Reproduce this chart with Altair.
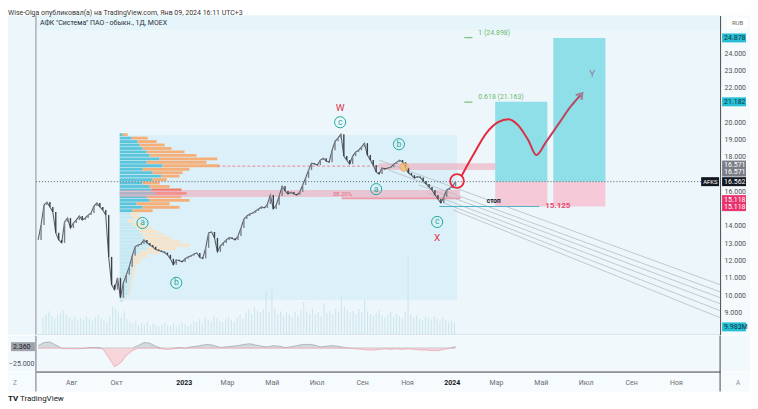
import altair as alt
import pandas as pd

FONT = "Roboto"
W, H = 686, 320
IH = 36

# ---------------- data ----------------
# closes every 4 calendar days from 2022-06-17
close = [13.19, 14.06, 15.21, 15.38, 15.10, 14.81, 13.60, 13.19, 13.02, 14.23,
         14.46, 13.88, 14.17, 14.35, 14.58, 14.35, 14.46, 14.63, 14.75, 15.15,
         15.33, 15.10, 14.92, 14.63, 12.21, 10.60, 10.31, 11.00, 9.85, 10.71,
         11.17, 11.63, 12.27, 12.79, 12.90, 12.96, 13.19, 13.02, 12.90, 12.79,
         12.64, 12.58, 12.52, 12.46, 12.33, 12.10, 11.75, 12.04, 11.98, 11.92,
         12.10, 12.21, 12.27, 12.38, 12.44, 12.18, 12.12, 12.73, 13.60, 13.65,
         13.31, 12.50, 12.85, 13.02, 13.19, 13.33, 13.28, 13.19, 13.42, 13.88,
         14.40, 14.58, 14.69, 14.75, 14.87, 14.98, 15.10, 15.04, 15.27, 15.79,
         14.98, 15.21, 15.73, 16.31, 16.02, 15.85, 15.96, 15.85, 15.79, 15.96,
         16.37, 16.77, 17.23, 17.63, 17.58, 17.52, 17.81, 17.92, 17.75, 17.69,
         18.38, 18.90, 19.08, 19.31, 18.04, 17.81, 17.58, 18.04, 18.27, 18.38,
         18.56, 18.79, 18.10, 17.81, 17.52, 17.12, 17.00, 17.35, 17.29, 17.35,
         17.40, 17.58, 17.69, 17.81, 17.69, 17.35, 17.06, 16.94, 16.77, 16.86,
         16.80, 16.60, 16.42, 16.25, 16.08, 15.79, 15.56, 15.33, 15.67, 16.08,
         16.19, 16.31, 16.56]

volume_m = [22, 26, 30, 24, 20, 25, 28, 31, 26, 22, 20, 24, 18, 21, 19, 23, 20, 18, 22, 25, 21, 19, 17, 24,
            36, 34,
            28, 22, 30, 20, 16, 14, 18, 12, 15, 13, 17, 11, 14, 12, 10, 13, 16, 12, 11, 14, 10, 12, 15, 13, 11,
            14, 18, 16, 20, 15, 22, 19, 17, 24, 21, 18, 16, 20, 23, 19, 17, 22, 25, 20,
            28, 32, 26, 35, 30, 29, 33,
            55, 30, 59,
            34, 27, 30, 24, 28, 26, 22, 29, 25, 31,
            42,
            30, 27, 33, 26, 29, 24,
            40,
            28, 31, 26, 34, 30,
            50,
            36, 32, 28, 30, 26, 33, 29,
            45,
            30, 27, 24, 28, 31, 25, 22, 26, 29, 23, 27, 24, 21,
            30, 102,
            26, 22, 25, 20, 18, 23, 21, 19, 24, 20, 17, 22, 19, 16, 18, 15]

# oscillator, every 8 days from 2022-06-17
osc = [4, 9, 10, 5, 0, -1, -1, -1, 0, 1,
       1, -1, -15, -30, -24, -12, -4, 4, 9, 8,
       3, -1, -2, -1, 1, 0, 2, 3, 5, 6,
       4, 1, 2, 3, 4, 6, 7, 5, 3, 2,
       4, 3, 1, 2, 4, 6, 6, 5, 2, 3,
       4, 3, 1, 0, -1, -2, -3, -3, -2, -1,
       -2, -1, -2, -1, -2, -3, -3, -4, -4, -2,
       0, 2.36]

# volume profile rows (row bottom price, up volume, down volume; relative units)
prof_price = [9.6, 9.8, 10.0, 10.2, 10.4, 10.6, 10.8, 11.0, 11.2, 11.4, 11.6, 11.8, 12.0,
              12.2, 12.4, 12.6, 12.8, 13.0, 13.2, 13.4, 13.6, 13.8, 14.0, 14.2, 14.4, 14.6,
              14.8, 15.0, 15.2, 15.4, 15.6, 15.8, 16.0, 16.2, 16.4, 16.6, 16.8, 17.0, 17.2,
              17.4, 17.6, 17.8, 18.0, 18.2, 18.4, 18.6, 18.8, 19.0, 19.2]
prof_up = [3, 6, 9, 10, 10, 11, 11, 12, 12, 13, 13, 14, 13, 15, 20, 27, 30, 28, 25, 23,
           20, 17, 13, 8, 13, 10, 13, 23, 17, 30, 27, 35, 32, 30, 23, 33, 42, 33, 23, 43,
           27, 40, 30, 27, 23, 20, 18, 12, 3]
prof_down = [1, 1, 1, 2, 2, 2, 2, 2, 3, 3, 4, 6, 9, 13, 20, 30, 40, 32, 27, 22,
             18, 15, 12, 7, 9, 10, 20, 37, 33, 40, 35, 32, 30, 20, 17, 14, 18, 30, 47, 57,
             60, 58, 47, 38, 29, 25, 19, 16, 5]

wave_letters = ["a", "b", "c", "a", "b", "c"]
wave_dates = ["2022-11-06", "2022-12-22", "2023-08-02", "2023-09-20", "2023-10-21", "2023-12-12"]
wave_prices = [14.17, 10.71, 20.00, 16.13, 18.73, 14.23]

big_labels = ["W", "X", "Y"]
big_dates = ["2023-08-02", "2023-12-12", "2024-07-10"]
big_prices = [20.85, 13.31, 22.77]
big_colors = ["#e0304e", "#e0304e", "#8f7c9c"]

path_dates = ["2024-01-14", "2024-01-30", "2024-02-17", "2024-03-04", "2024-03-18", "2024-03-31",
              "2024-04-14", "2024-04-25", "2024-05-08", "2024-05-25", "2024-06-10", "2024-06-24"]
path_prices = [16.88, 18.10, 19.37, 20.00, 20.17, 19.83, 18.96, 18.10, 18.85, 19.89, 20.87, 21.56]

pos_start = ["2024-02-29", "2024-05-18"]
pos_end = ["2024-05-10", "2024-07-28"]
pos_target = [21.182, 24.878]
entry_price = 16.562
stop_price = 15.118

fib_levels = [24.898, 21.163]
fib_labels = ["1 (24.898)", "0.618 (21.163)"]
stop_level = 15.125

diag_d1 = ["2023-09-24", "2023-10-07", "2023-11-17", "2023-11-30", "2023-12-21", "2024-01-03"]
diag_p1 = [17.81, 17.23, 16.37, 15.90, 15.33, 14.92]
diag_d2 = ["2024-12-31", "2024-12-31", "2024-12-31", "2024-12-31", "2024-12-31", "2024-12-31"]
diag_p2 = [10.60, 10.19, 9.85, 9.50, 9.10, 8.69]

axis_ticks = [9, 10, 11, 12, 13, 14, 16, 18, 19, 20, 22, 23, 24]
tick_months = [(2022, 8), (2022, 10), (2023, 1), (2023, 3), (2023, 5), (2023, 7), (2023, 9),
               (2023, 11), (2024, 1), (2024, 3), (2024, 5), (2024, 7), (2024, 9), (2024, 11)]
month_names = ["Янв", "Фев", "Мар", "Апр", "Май", "Июн", "Июл", "Авг", "Сен", "Окт", "Ноя", "Дек"]

# ---------------- frames ----------------
dt = pd.to_datetime
candle_dates = pd.date_range("2022-06-17", periods=len(close), freq="4D")
osc_dates = pd.date_range("2022-06-17", periods=len(osc), freq="8D")
opens = [close[0]] + close[:-1]
candles = pd.DataFrame({"d": candle_dates, "o": opens, "c": close, "v": volume_m})
oscdf = pd.DataFrame({"d": osc_dates, "v": osc})

rows = []
for p, u, dn in zip(prof_price, prof_up, prof_down):
    va = p >= 14.8
    poc = p in (15.8, 16.0)
    rows.append({"p": p, "p2": p + 0.2, "x0": 0, "x1": u, "kind": "up" if va else "up_out"})
    rows.append({"p": p, "p2": p + 0.2, "x0": u, "x1": u + dn,
                 "kind": "poc" if poc else ("dn" if va else "dn_out")})
prof = pd.DataFrame(rows)

one = pd.DataFrame({"k": [0]})

xs = alt.Scale(domain=[alt.DateTime(year=2022, month=6, date=14),
                       alt.DateTime(year=2024, month=12, date=31)], nice=False)
ys = alt.Scale(domain=[7.71, 26.175], nice=False, zero=False)
iys = alt.Scale(domain=[-37.9, 20.2], nice=False, zero=False)


def X(f):
    return alt.X(f"{f}:T", scale=xs, axis=None)


def Y(f, scale=ys):
    return alt.Y(f"{f}:Q", scale=scale, axis=None)


def fixed_rect(x0, x1, y0, y1, color, **kw):
    return alt.Chart(one).mark_rect(color=color, **kw).encode(
        x=alt.value(x0), x2=alt.value(x1), y=alt.value(y0), y2=alt.value(y1))


def fixed_text(x, y, txt, **kw):
    d = pd.DataFrame({"t": [txt]})
    return alt.Chart(d).mark_text(font=FONT, **kw).encode(x=alt.value(x), y=alt.value(y), text="t:N")


def axis_box(val, off, fill, label, tcolor, x0=688, x1=712, scale=ys, fs=7):
    d = pd.DataFrame({"p": [val], "t": [label]})
    yenc = alt.Y("p:Q", scale=scale, axis=None)
    r = alt.Chart(d).mark_rect(color=fill, yOffset=off - 4.5, y2Offset=off + 4.5).encode(
        x=alt.value(x0), x2=alt.value(x1), y=yenc, y2="p:Q")
    t = alt.Chart(d).mark_text(align="left", baseline="middle", dy=off, fontSize=fs,
                               color=tcolor, font=FONT).encode(
        x=alt.value(x0 + 2), y=yenc, text="t:N")
    return [r, t]


L = []
# backgrounds
L.append(fixed_rect(-28, 686, 0, H, "#edf7fb"))
L.append(fixed_rect(686, 716, 0, H, "#f5fbfd"))
L.append(fixed_rect(0, 686, 0, 15, "#e5f5fa"))

# volume profile range box
pb = pd.DataFrame({"d1": [dt("2022-10-06")], "d2": [dt("2024-01-08")], "p1": [9.73], "p2": [19.25]})
L.append(alt.Chart(pb).mark_rect(color="#d6eef7", opacity=0.8).encode(
    x=X("d1"), x2="d2:T", y=Y("p1"), y2="p2:Q"))

# volume bars
L.append(alt.Chart(candles).mark_bar(width=1.2, color="#cfe6ed").encode(
    x=X("d"), y=alt.Y("v:Q", scale=alt.Scale(domain=[0, 410], nice=False), axis=None)))

# volume profile rows
L.append(alt.Chart(prof).mark_rect(y2Offset=0.6).encode(
    x=alt.X("x0:Q", scale=alt.Scale(domain=[-84, 602], nice=False, zero=False), axis=None),
    x2="x1:Q", y=Y("p"), y2="p2:Q",
    color=alt.Color("kind:N", scale=alt.Scale(
        domain=["up", "dn", "poc", "up_out", "dn_out"],
        range=["#5cc5dc", "#f5b07a", "#f07a62", "#c6e8f2", "#f6e3c8"]), legend=None)))

# pink bands
bands = pd.DataFrame({"d1": dt(["2022-10-06", "2023-09-24"]), "d2": dt(["2024-01-12", "2024-04-28"]),
                      "p1": [15.67, 17.23], "p2": [16.08, 17.63]})
L.append(alt.Chart(bands).mark_rect(color="#f2a3b3", opacity=0.55).encode(
    x=X("d1"), x2="d2:T", y=Y("p1"), y2="p2:Q"))
dash = pd.DataFrame({"d1": dt(["2023-02-16"]), "d2": dt(["2023-09-24"]), "p": [17.46]})
L.append(alt.Chart(dash).mark_rule(color="#ec8799", strokeDash=[3, 2], strokeWidth=1).encode(
    x=X("d1"), x2="d2:T", y=Y("p")))
thin = pd.DataFrame({"d1": dt(["2023-08-04"]), "d2": dt(["2024-01-13"]), "p": [15.60]})
L.append(alt.Chart(thin).mark_rule(color="#f09aaa", strokeWidth=2).encode(
    x=X("d1"), x2="d2:T", y=Y("p")))
fibt = pd.DataFrame({"d": dt(["2023-08-05"]), "p": [15.86], "t": ["38.20%"]})
L.append(alt.Chart(fibt).mark_text(color="#e5677f", fontSize=6, font=FONT).encode(
    x=X("d"), y=Y("p"), text="t:N"))

# diagonal channel lines
diag = pd.DataFrame({"d1": dt(diag_d1), "p1": diag_p1, "d2": dt(diag_d2), "p2": diag_p2})
L.append(alt.Chart(diag).mark_rule(color="#b7bcc3", strokeWidth=0.8).encode(
    x=X("d1"), x2="d2:T", y=Y("p1"), y2="p2:Q"))

# long-position boxes
pos = pd.DataFrame({"d1": dt(pos_start), "d2": dt(pos_end), "top": pos_target,
                    "entry": [entry_price] * 2, "stop": [stop_price] * 2})
L.append(alt.Chart(pos).mark_rect(color="#8fdfe9").encode(
    x=X("d1"), x2="d2:T", y=Y("entry"), y2="top:Q"))
L.append(alt.Chart(pos).mark_rect(color="#f6c9d8").encode(
    x=X("d1"), x2="d2:T", y=Y("stop"), y2="entry:Q"))

# current price dotted line
cur = pd.DataFrame({"p": [entry_price]})
L.append(alt.Chart(cur).mark_rule(color="#555a60", strokeDash=[1, 2], strokeWidth=1).encode(
    x=alt.value(0), x2=alt.value(W), y=Y("p")))

# candles
L.append(alt.Chart(candles).mark_line(color="#5f626a", strokeWidth=1.1).encode(
    x=X("d"),
    y=alt.Y("c:Q", scale=ys, axis=alt.Axis(
        orient="right", values=axis_ticks, format=".3f", labelFontSize=7, labelColor="#4d4f55",
        labelFont=FONT, ticks=False, domain=True, domainColor="#4a4a4a", labelPadding=4,
        grid=False, title=None, labelAlign="left", zindex=1))))
L.append(alt.Chart(candles).mark_rule(strokeWidth=1.4).encode(
    x=X("d"), y=Y("o"), y2="c:Q",
    color=alt.condition("datum.c >= datum.o", alt.value("#7f828a"), alt.value("#3d4048"))))

# fib levels
fib = pd.DataFrame({"d1": dt(["2024-01-18"] * 2), "d2": dt(["2024-01-29"] * 2),
                    "dt": dt(["2024-02-06"] * 2), "p": fib_levels, "t": fib_labels})
L.append(alt.Chart(fib).mark_rule(color="#7cc47f", strokeWidth=1.3).encode(
    x=X("d1"), x2="d2:T", y=Y("p")))
L.append(alt.Chart(fib).mark_text(color="#6db870", fontSize=7, align="left", dy=-5, font=FONT).encode(
    x=X("dt"), y=Y("p"), text="t:N"))

# stop
stop = pd.DataFrame({"d1": dt(["2023-12-15"]), "d2": dt(["2024-04-29"]), "p": [stop_level]})
L.append(alt.Chart(stop).mark_rule(color="#4cb3c8", strokeWidth=1).encode(
    x=X("d1"), x2="d2:T", y=Y("p")))
stopt = pd.DataFrame({"d": dt(["2024-02-27", "2024-05-07"]), "p": [15.46, stop_level],
                      "t": ["стоп", f"{stop_level:.3f}"]})
L.append(alt.Chart(stopt.iloc[[0]]).mark_text(color="#131722", fontSize=6.5, fontWeight="bold", font=FONT).encode(
    x=X("d"), y=Y("p"), text="t:N"))
L.append(alt.Chart(stopt.iloc[[1]]).mark_text(color="#e8456a", fontSize=8, fontWeight="bold",
                                             align="left", font=FONT).encode(
    x=X("d"), y=Y("p"), text="t:N"))

# projected path
path = pd.DataFrame({"d": dt(path_dates), "p": path_prices})
grad = alt.LinearGradient(gradient="linear", x1=0, x2=1, y1=0, y2=0,
                          stops=[alt.GradientStop(color="#e8283c", offset=0),
                                 alt.GradientStop(color="#e02a40", offset=0.45),
                                 alt.GradientStop(color="#b0506e", offset=1)])
L.append(alt.Chart(path).mark_line(stroke=grad, strokeWidth=2, interpolate="monotone").encode(
    x=X("d"), y=Y("p")))
L.append(alt.Chart(path.iloc[[-1]]).mark_point(
    shape="M-0.9,0.7L0,-0.7L0.9,0.7", filled=False, stroke="#b0506e", strokeWidth=2,
    size=70, angle=40).encode(x=X("d"), y=Y("p")))
circ = pd.DataFrame({"d": dt(["2024-01-08"]), "p": [16.60]})
L.append(alt.Chart(circ).mark_point(shape="circle", size=190, filled=False, stroke="#e8283c",
                                    strokeWidth=1.8, opacity=1).encode(x=X("d"), y=Y("p")))
orng = pd.DataFrame({"d": dt(["2023-10-28"]), "p": [17.40]})
L.append(alt.Chart(orng).mark_point(shape="circle", size=70, filled=True, fill="#f7c07a",
                                    stroke="#f0a040", strokeWidth=1, opacity=0.75).encode(
    x=X("d"), y=Y("p")))

# wave labels
waves = pd.DataFrame({"d": dt(wave_dates), "p": wave_prices, "t": wave_letters})
L.append(alt.Chart(waves).mark_point(shape="circle", size=125, filled=False, stroke="#22a99c",
                                     strokeWidth=1, opacity=1).encode(x=X("d"), y=Y("p")))
L.append(alt.Chart(waves).mark_text(color="#22a99c", fontSize=8.5, baseline="middle", dy=-0.5,
                                    font=FONT).encode(x=X("d"), y=Y("p"), text="t:N"))
bigs = pd.DataFrame({"d": dt(big_dates), "p": big_prices, "t": big_labels, "c": big_colors})
L.append(alt.Chart(bigs).mark_text(fontSize=10, baseline="middle", font=FONT).encode(
    x=X("d"), y=Y("p"), text="t:N", color=alt.Color("c:N", scale=None)))

# price-axis tags
L += axis_box(pos_target[1], 0, "#27bfd6", f"{pos_target[1]:.3f}", "#0d3440")
L += axis_box(pos_target[0], 0, "#27bfd6", f"{pos_target[0]:.3f}", "#0d3440")
L += axis_box(16.571, -16.5, "#7b7e87", "16.571", "white")
L += axis_box(16.571, -9.5, "#7b7e87", "16.571", "white")
L += axis_box(entry_price, 0, "#131722", f"{entry_price:.3f}", "white")
L += axis_box(entry_price, 0, "#131722", "AFKS", "white", x0=667, x1=685, fs=6)
L += axis_box(stop_price, -7, "#e8336e", f"{stop_price:.3f}", "white")
L += axis_box(stop_price, 0, "#e8336e", f"{stop_price:.3f}", "white")
L += axis_box(9.983, 0, "#27bfd6", "9.983M", "#0d3440",
              scale=alt.Scale(domain=[0, 410], nice=False))

# borders and headers
L.append(alt.Chart(one).mark_rule(color="#8a9096").encode(x=alt.value(0), y=alt.value(0), y2=alt.value(H)))
L.append(alt.Chart(one).mark_rule(color="#cfe4ec").encode(x=alt.value(0), x2=alt.value(W), y=alt.value(H)))
L.append(fixed_rect(693, 714, 2, 13, "white", cornerRadius=2))
L.append(fixed_text(703.5, 7.5, "RUB", fontSize=6, color="#666", baseline="middle"))
L.append(fixed_text(4, 8, "АФК \"Система\" ПАО - обыкн., 1Д, MOEX", fontSize=7, color="#2a2e39",
                    align="left", baseline="middle"))
L.append(fixed_text(-28, -7, "Wise-Olga опубликовал(а) на TradingView.com, Янв 09, 2024 16:11 UTC+3",
                    fontSize=7, color="#333", align="left", baseline="top"))

price = alt.layer(*L).resolve_scale(x="independent", y="independent", color="independent").properties(
    width=W, height=H)

# ---------------- indicator pane ----------------
month_expr = "month(datum.value)==0 ? timeFormat(datum.value,'%Y') : " + " : ".join(
    f"month(datum.value)=={i} ? '{n}'" for i, n in enumerate(month_names) if i > 0) + " : ''"
time_axis = alt.Axis(
    orient="bottom",
    values=[alt.DateTime(year=y, month=m, date=1) for y, m in tick_months],
    labelExpr=month_expr, labelFontSize=7, labelFont=FONT,
    labelColor={"condition": {"test": "month(datum.value)==0", "value": "#131722"}, "value": "#6a6d74"},
    labelFontWeight={"condition": {"test": "month(datum.value)==0", "value": "bold"}, "value": "normal"},
    ticks=False, domain=True, domainColor="#3c3c3c", labelPadding=7, labelOverlap=False,
    labelFlush=False, grid=False, title=None, zindex=1)
left_axis = alt.Axis(orient="left", values=[-25], format=".3f", labelFontSize=7, labelFont=FONT,
                     labelColor="#4d4f55", ticks=False, domain=False, labelPadding=2, grid=False,
                     title=None, zindex=1)

I = []
I.append(fixed_rect(-28, 716, 0, IH, "#f1f9fc"))
I.append(fixed_rect(-28, 716, IH + 1, IH + 20, "#f6fbfd"))
I.append(alt.Chart(oscdf).transform_calculate(pv="max(datum.v, 0)").mark_area(
    color="#c9cdd3", opacity=0.75, line={"color": "#a4a9b0", "strokeWidth": 0.8}).encode(
    x=alt.X("d:T", scale=xs, axis=time_axis),
    y=alt.Y("pv:Q", scale=iys, axis=left_axis), y2=alt.datum(0)))
I.append(alt.Chart(oscdf).transform_calculate(nv="min(datum.v, 0)").mark_area(
    color="#f7cfd5", opacity=0.85, line={"color": "#eba5b0", "strokeWidth": 0.8}).encode(
    x=alt.X("d:T", scale=xs, axis=None),
    y=alt.Y("nv:Q", scale=iys, axis=None), y2=alt.datum(0)))
I += axis_box(osc[-1], 0, "#9ea2aa", f"{osc[-1]:.3f}", "#1e2129", x0=-25, x1=-1, scale=iys)
I.append(alt.Chart(one).mark_rule(color="#6f757c").encode(x=alt.value(0), y=alt.value(0), y2=alt.value(IH + 20)))
I.append(alt.Chart(one).mark_rule(color="#4a4a4a").encode(x=alt.value(W), y=alt.value(0), y2=alt.value(IH + 20)))
I.append(fixed_text(-21, 47, "Z", fontSize=6.5, color="#8a8f96", baseline="middle"))
I.append(fixed_text(704, 47, "A", fontSize=6.5, color="#8a8f96", baseline="middle"))
I.append(fixed_text(-28, 64, "TV", fontSize=8, fontWeight="bold", color="#131722", align="left",
                    baseline="middle"))
I.append(fixed_text(-16, 64, "TradingView", fontSize=8, color="#131722", align="left", baseline="middle"))

ind = alt.layer(*I).resolve_scale(x="independent", y="independent").properties(width=W, height=IH)

chart = alt.vconcat(price, ind, spacing=1, bounds="flush").properties(
    padding=0, background="white").configure(font=FONT).configure_view(stroke=None)

chart.save("out.html", embed_options={"renderer": "svg", "actions": False})
